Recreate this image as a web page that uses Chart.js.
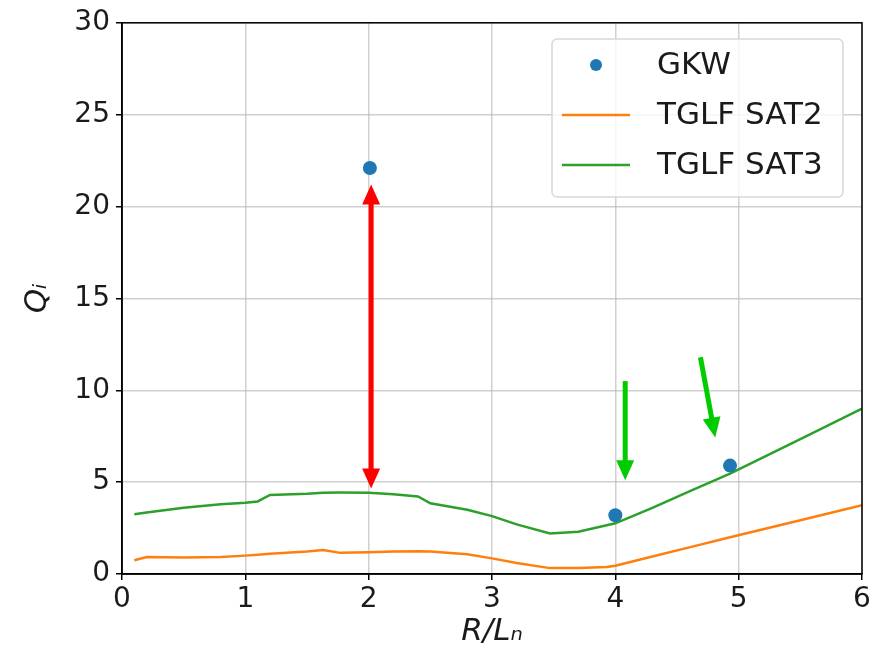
<!DOCTYPE html>
<html>
<head>
<meta charset="utf-8">
<script src="https://cdn.jsdelivr.net/npm/chart.js@4/dist/chart.umd.min.js"></script>
<style>
  body { margin: 0; background: #fff; }
</style>
</head>
<body>
<canvas id="chart-qi" width="891" height="655"></canvas>
<script>
const rln = [0.1, 0.2, 0.5, 0.8, 1.0, 1.1, 1.2, 1.5, 1.63, 1.77, 2.0, 2.2, 2.4, 2.5, 2.8, 3.0, 3.2, 3.47, 3.7, 3.93, 4.0, 4.3, 4.6, 4.93, 5.5, 6.0];
const sat2 = [0.75, 0.92, 0.9, 0.92, 1.0, 1.05, 1.1, 1.22, 1.3, 1.15, 1.18, 1.22, 1.24, 1.22, 1.08, 0.85, 0.6, 0.32, 0.33, 0.38, 0.45, 0.95, 1.45, 2.0, 2.93, 3.74];
const sat3 = [3.25, 3.35, 3.6, 3.8, 3.88, 3.95, 4.3, 4.37, 4.42, 4.43, 4.42, 4.34, 4.22, 3.85, 3.5, 3.15, 2.7, 2.2, 2.3, 2.65, 2.76, 3.6, 4.5, 5.46, 7.34, 9.0];

const gkwX = [2.01, 4.0, 4.93];
const gkwY = [22.1, 3.2, 5.9];

const xTicks = [0, 1, 2, 3, 4, 5, 6];
const yTicks = [0, 5, 10, 15, 20, 25, 30];

// annotation arrows, in data units: [x1, y1, x2, y2]
const redArrow = [2.02, 21.2, 2.02, 4.65];
const greenArrows = [
  [4.08, 10.5, 4.08, 5.1],
  [4.69, 11.8, 4.81, 7.43],
];

const legendItems = [
  { label: "GKW", type: "point", color: "#1f77b4" },
  { label: "TGLF SAT2", type: "line", color: "#ff7f0e" },
  { label: "TGLF SAT3", type: "line", color: "#2ca02c" },
];

const ctx = document.querySelector("#chart-qi").getContext("2d");

function arrowHead(c, x1, y1, x2, y2, len, half) {
  const a = Math.atan2(y2 - y1, x2 - x1);
  c.beginPath();
  c.moveTo(x2, y2);
  c.lineTo(x2 - len * Math.cos(a) + half * Math.sin(a), y2 - len * Math.sin(a) - half * Math.cos(a));
  c.lineTo(x2 - len * Math.cos(a) - half * Math.sin(a), y2 - len * Math.sin(a) + half * Math.cos(a));
  c.closePath();
  c.fill();
}

function shaft(c, x1, y1, x2, y2, cut1, cut2) {
  const a = Math.atan2(y2 - y1, x2 - x1);
  c.beginPath();
  c.moveTo(x1 + cut1 * Math.cos(a), y1 + cut1 * Math.sin(a));
  c.lineTo(x2 - cut2 * Math.cos(a), y2 - cut2 * Math.sin(a));
  c.stroke();
}

const extras = {
  id: "extras",
  afterDraw(chart) {
    const c = chart.ctx;
    const xs = chart.scales.x, ys = chart.scales.y;
    const area = chart.chartArea;
    c.save();

    // frame
    c.strokeStyle = "#000";
    c.lineWidth = 1.5;
    c.strokeRect(area.left, area.top, area.right - area.left, area.bottom - area.top);

    // arrows
    const px = (v) => xs.getPixelForValue(v);
    const py = (v) => ys.getPixelForValue(v);
    c.lineWidth = 5;
    c.strokeStyle = "#ff0000";
    c.fillStyle = "#ff0000";
    let [ax1, ay1, ax2, ay2] = redArrow;
    shaft(c, px(ax1), py(ay1), px(ax2), py(ay2), 15, 15);
    arrowHead(c, px(ax1), py(ay1), px(ax2), py(ay2), 20, 9);
    arrowHead(c, px(ax2), py(ay2), px(ax1), py(ay1), 20, 9);

    c.strokeStyle = "#00cc00";
    c.fillStyle = "#00cc00";
    greenArrows.forEach(([x1, y1, x2, y2]) => {
      shaft(c, px(x1), py(y1), px(x2), py(y2), 0, 15);
      arrowHead(c, px(x1), py(y1), px(x2), py(y2), 20, 9);
    });

    // legend
    const lx = 552, ly = 39, lw = 291, lh = 158;
    c.fillStyle = "rgba(255,255,255,0.8)";
    c.strokeStyle = "#d8d8d8";
    c.lineWidth = 1.5;
    c.beginPath();
    c.roundRect(lx, ly, lw, lh, 5);
    c.fill();
    c.stroke();
    c.font = "31px 'DejaVu Sans'";
    c.textBaseline = "middle";
    legendItems.forEach((it, i) => {
      const cy = 65 + i * 50;
      if (it.type === "point") {
        c.fillStyle = it.color;
        c.beginPath();
        c.arc(596, cy, 6, 0, Math.PI * 2);
        c.fill();
      } else {
        c.strokeStyle = it.color;
        c.lineWidth = 2.5;
        c.beginPath();
        c.moveTo(562, cy);
        c.lineTo(630, cy);
        c.stroke();
      }
      c.fillStyle = "#1a1a1a";
      c.fillText(it.label, 657, cy + 1);
    });

    // axis titles
    c.fillStyle = "#1a1a1a";
    c.font = "italic 31px 'DejaVu Sans'";
    c.textAlign = "center";
    c.fillText("R/Lₙ", (area.left + area.right) / 2, 632);
    c.translate(38, (area.top + area.bottom) / 2);
    c.rotate(-Math.PI / 2);
    c.fillText("Qᵢ", 0, 0);
    c.restore();
  },
};

new Chart(ctx, {
  type: "scatter",
  data: {
    datasets: [
      {
        label: "GKW",
        data: gkwX.map((x, i) => ({ x, y: gkwY[i] })),
        backgroundColor: "#1f77b4",
        borderWidth: 0,
        pointRadius: 7,
        order: 0,
      },
      {
        label: "TGLF SAT2",
        type: "line",
        data: rln.map((x, i) => ({ x, y: sat2[i] })),
        borderColor: "#ff7f0e",
        borderWidth: 2.5,
        pointRadius: 0,
        tension: 0,
        order: 2,
      },
      {
        label: "TGLF SAT3",
        type: "line",
        data: rln.map((x, i) => ({ x, y: sat3[i] })),
        borderColor: "#2ca02c",
        borderWidth: 2.5,
        pointRadius: 0,
        tension: 0,
        order: 1,
      },
    ],
  },
  options: {
    responsive: false,
    animation: false,
    devicePixelRatio: 1,
    layout: { padding: { top: 20, right: 29, left: 0, bottom: 0 } },
    plugins: { legend: { display: false }, tooltip: { enabled: false } },
    scales: {
      x: {
        type: "linear",
        min: 0,
        max: 6,
        afterFit: (s) => { s.height = 81; },
        afterBuildTicks: (s) => { s.ticks = xTicks.map((v) => ({ value: v })); },
        ticks: { font: { family: "DejaVu Sans", size: 28 }, color: "#1a1a1a", padding: 3 },
        grid: { color: "rgba(176,176,176,0.6)", lineWidth: 1.5, tickLength: 6, tickColor: "#000" },
        border: { color: "#000", width: 1.5 },
      },
      y: {
        min: 0,
        max: 30,
        afterFit: (s) => { s.width = 122; },
        afterBuildTicks: (s) => { s.ticks = yTicks.map((v) => ({ value: v })); },
        ticks: { font: { family: "DejaVu Sans", size: 28 }, color: "#1a1a1a", padding: 6 },
        grid: { color: "rgba(176,176,176,0.6)", lineWidth: 1.5, tickLength: 6, tickColor: "#000" },
        border: { color: "#000", width: 1.5 },
      },
    },
  },
  plugins: [extras],
});
</script>
</body>
</html>
